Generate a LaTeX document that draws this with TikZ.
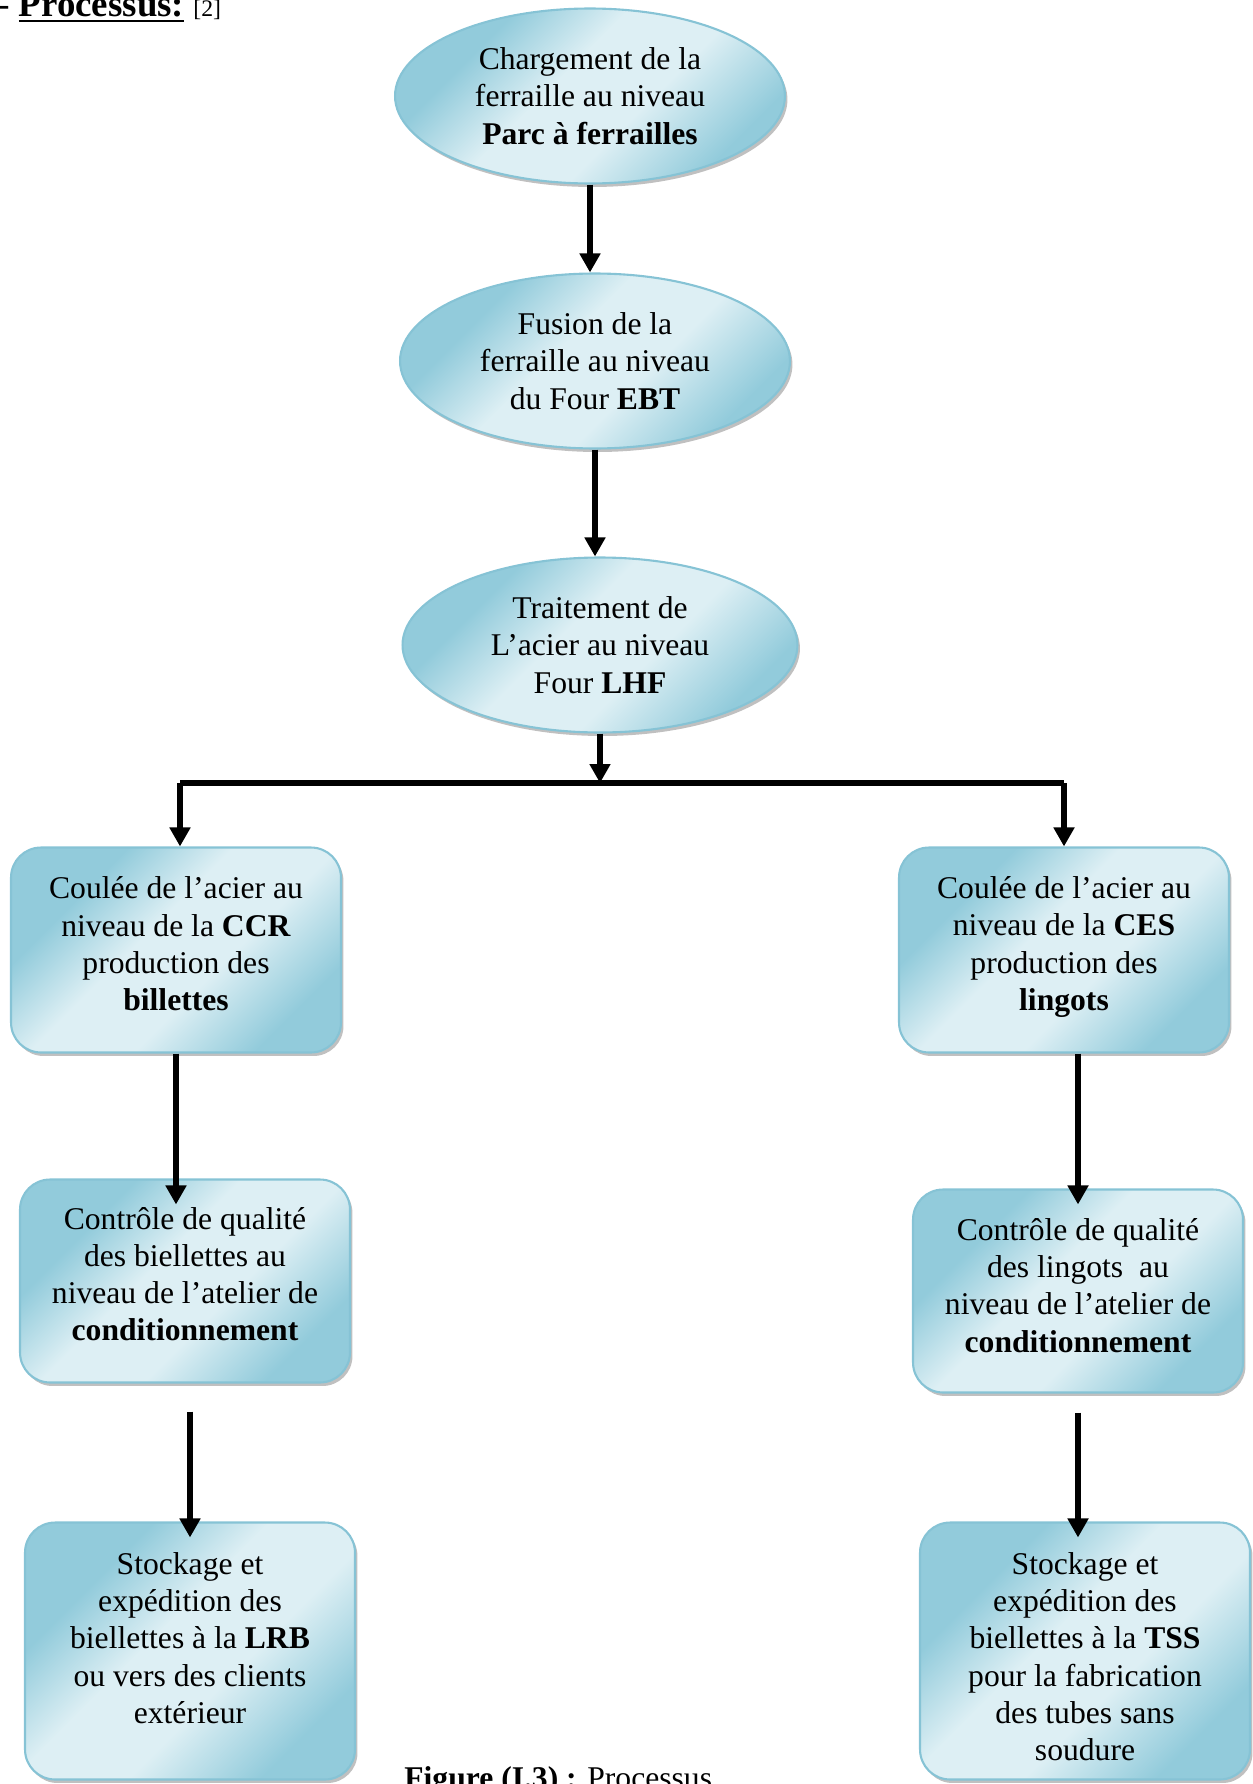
\documentclass[tikz,border=0pt]{standalone}
\usepackage{fontspec}
\setmainfont{Liberation Serif}
\usetikzlibrary{shapes.geometric,arrows.meta,shadows}
\definecolor{aqualight}{HTML}{DDEFF4}
\definecolor{aquadark}{HTML}{92CBDB}
\definecolor{aquaedge}{HTML}{86C3D5}
\pgfdeclarehorizontalshading{aquagrad}{100bp}{color(0bp)=(aquadark); color(30bp)=(aquadark); color(44bp)=(aqualight); color(58bp)=(aqualight); color(74bp)=(aquadark); color(100bp)=(aquadark)}
\newcommand\boxfont{\fontsize{18}{21.2}\selectfont}
\newcommand\lowpad[1]{\rule[-#1]{0pt}{#1}}
\newcommand\toppad[1]{\rule{0pt}{#1}}
\newcommand\thickunder[1]{\setbox0\hbox{#1}\rlap{\rule[-3pt]{\wd0}{1.5pt}}\box0\relax}

\begin{document}
\begin{tikzpicture}[x=0.02cm,y=-0.02cm,
  ovalstep/.style={ellipse,draw=aquaedge,line width=1.2pt,shading=aquagrad,shading angle=-45,
    drop shadow={shadow xshift=0.05cm,shadow yshift=-0.07cm,fill=black!45,opacity=0.55},
    minimum width=7.8cm,minimum height=3.5cm,inner sep=0pt,align=center,font=\boxfont},
  boxstep/.style={rectangle,rounded corners=0.6cm,draw=aquaedge,line width=1.2pt,shading=aquagrad,shading angle=-45,
    drop shadow={shadow xshift=0.05cm,shadow yshift=-0.07cm,fill=black!45,opacity=0.55},
    minimum width=6.6cm,inner sep=2pt,align=center,font=\boxfont},
  arr/.style={line width=3pt,-{Triangle[length=0.38cm,width=0.4cm]}},
  bar/.style={line width=3.4pt}]
\useasboundingbox (0,0) rectangle (1253,1784);

\node[anchor=base west,inner sep=0pt,font=\fontsize{21}{25}\selectfont] (titre) at (-3,17)
  {- \thickunder{\textbf{Processus:}} {\fontsize{13.5}{16}\selectfont[2]}};

\node[ovalstep] (e1) at (590,96) {Chargement de la\\ferraille au niveau\\\textbf{Parc à ferrailles}};
\node[ovalstep] (e2) at (595,361) {Fusion de la\\ferraille au niveau\\du Four \textbf{EBT}};
\node[ovalstep,minimum width=7.9cm] (e3) at (600,645) {Traitement de\\L’acier au niveau\\Four \textbf{LHF}};

\node[boxstep,minimum height=4.1cm] (l1) at (176,950) {Coulée de l’acier au\\niveau de la \textbf{CCR}\\production des\\\textbf{billettes}\lowpad{7pt}};
\node[boxstep,minimum height=4.1cm] (r1) at (1064,950) {Coulée de l’acier au\\niveau de la \textbf{CES}\\production des\\\textbf{lingots}\lowpad{7.5pt}};
\node[boxstep,minimum height=4.06cm] (l2) at (185,1281) {Contrôle de qualité\\des biellettes au\\niveau de l’atelier de\\\textbf{conditionnement}\lowpad{8pt}};
\node[boxstep,minimum height=4.06cm] (r2) at (1078,1291) {Contrôle de qualité\\des lingots~ au\\niveau de l’atelier de\\\textbf{conditionnement}\lowpad{6.5pt}};
\node[boxstep,minimum height=5.14cm] (l3) at (190,1651) {Stockage et\\expédition des\\biellettes à la \textbf{LRB}\\ou vers des clients\\extérieur\lowpad{15pt}};
\node[boxstep,minimum height=5.14cm] (r3) at (1085,1651) {\toppad{19pt}Stockage et\\expédition des\\biellettes à la \textbf{TSS}\\pour la fabrication\\des tubes sans\\soudure};

\node[anchor=base west,inner sep=0pt,font=\boxfont] (legende) at (404,1788) {\textbf{Figure (I.3) :} Processus};

\coordinate (split) at (597,783);
\coordinate (bl) at (180,783);
\coordinate (br) at (1064,783);

\draw[arr] (e1.south) -- (e1.south |- e2.north);
\draw[arr] (e2.south) -- (e2.south |- e3.north);
\draw[arr] (e3.south) -- (e3.south |- split);
\draw[bar] (bl) -- (br);
\draw[arr] (bl) -- (bl |- l1.north);
\draw[arr] (br) -- (br |- r1.north);
\draw[arr,shorten >=-0.52cm] (l1.south) -- (l1.south |- l2.north);
\draw[arr,shorten >=-0.32cm] (r2.north |- r1.south) -- (r2.north);
\draw[arr,shorten <=0.56cm,shorten >=-0.32cm] (l3.north |- l2.south) -- (l3.north);
\draw[arr,shorten <=0.38cm,shorten >=-0.32cm] (r2.south) -- (r2.south |- r3.north);
\end{tikzpicture}
\end{document}
